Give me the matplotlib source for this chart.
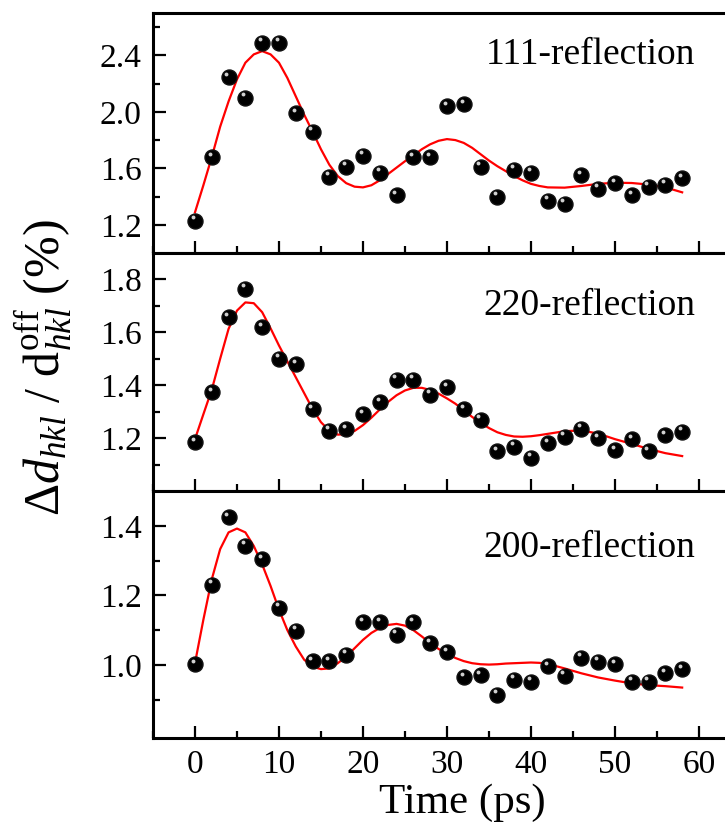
import matplotlib
matplotlib.use('Agg')
import matplotlib.pyplot as plt
import matplotlib.transforms as mtransforms
from matplotlib.ticker import MultipleLocator, FixedLocator

plt.rcParams['font.family'] = 'Liberation Serif'
plt.rcParams['mathtext.fontset'] = 'custom'
plt.rcParams['mathtext.rm'] = 'Liberation Serif'
plt.rcParams['mathtext.it'] = 'Liberation Serif:italic'

# measured points (time in ps)
t = [0, 2, 4, 6, 8, 10, 12, 14, 16, 18, 20, 22, 24, 26, 28,
     30, 32, 34, 36, 38, 40, 42, 44, 46, 48, 50, 52, 54, 56, 58]

d111 = [1.23, 1.68, 2.245, 2.10, 2.49, 2.49, 1.99, 1.86, 1.54, 1.61,
        1.69, 1.57, 1.41, 1.68, 1.68, 2.04, 2.055, 1.61, 1.40, 1.59,
        1.57, 1.37, 1.35, 1.55, 1.455, 1.495, 1.41, 1.47, 1.485, 1.53]
d220 = [1.184, 1.373, 1.657, 1.765, 1.62, 1.50, 1.48, 1.31, 1.227, 1.233,
        1.29, 1.336, 1.42, 1.42, 1.364, 1.392, 1.31, 1.27, 1.15, 1.168,
        1.125, 1.18, 1.205, 1.236, 1.20, 1.155, 1.196, 1.15, 1.21, 1.224]
d200 = [1.002, 1.231, 1.424, 1.342, 1.304, 1.164, 1.098, 1.011, 1.011, 1.029,
        1.122, 1.122, 1.087, 1.122, 1.063, 1.036, 0.964, 0.971, 0.915, 0.958,
        0.952, 0.997, 0.969, 1.021, 1.009, 1.002, 0.952, 0.952, 0.976, 0.988]

# fitted curves
tf = list(range(0, 43)) + [44, 46, 48, 50, 52, 54, 56, 58]
f111 = [1.288, 1.48, 1.68, 1.895, 2.074, 2.23, 2.348, 2.407, 2.43, 2.407,
        2.348, 2.24, 2.11, 1.98, 1.86, 1.735, 1.625, 1.545, 1.495, 1.47,
        1.465, 1.48, 1.515, 1.56, 1.605, 1.65, 1.69, 1.735, 1.77, 1.795,
        1.807, 1.80, 1.78, 1.745, 1.70, 1.655, 1.615, 1.58, 1.545, 1.515,
        1.49, 1.475, 1.465,
        1.463, 1.475, 1.49, 1.498, 1.496, 1.485, 1.465, 1.43]
f220 = [1.196, 1.29, 1.383, 1.50, 1.613, 1.682, 1.713, 1.71, 1.676, 1.615,
        1.55, 1.49, 1.43, 1.37, 1.31, 1.26, 1.228, 1.213, 1.215, 1.227,
        1.249, 1.277, 1.308, 1.337, 1.362, 1.38, 1.39, 1.39, 1.382, 1.368,
        1.35, 1.33, 1.305, 1.28, 1.258, 1.238, 1.222, 1.212, 1.206, 1.205,
        1.207, 1.211, 1.216,
        1.226, 1.229, 1.217, 1.196, 1.178, 1.159, 1.143, 1.132]
f200 = [1.005, 1.13, 1.246, 1.333, 1.381, 1.392, 1.381, 1.342, 1.289, 1.227,
        1.159, 1.10, 1.053, 1.015, 0.995, 0.988, 0.99, 1.005, 1.024, 1.048,
        1.072, 1.092, 1.106, 1.115, 1.118, 1.113, 1.10, 1.082, 1.063, 1.046,
        1.033, 1.02, 1.011, 1.005, 1.002, 1.001, 1.002, 1.004, 1.005, 1.006,
        1.007, 1.006, 1.003,
        0.99, 0.976, 0.964, 0.955, 0.947, 0.942, 0.939, 0.935]

labels = ['111-reflection', '220-reflection', '200-reflection']
ylims = [(1.0, 2.7), (1.0, 1.9), (0.79, 1.5)]
yticks = [[1.2, 1.6, 2.0, 2.4], [1.2, 1.4, 1.6, 1.8], [1.0, 1.2, 1.4]]
yminor = [[1.4, 1.8, 2.2, 2.6], [1.1, 1.3, 1.5, 1.7], [0.9, 1.1, 1.3]]
label_y = [0.825, 0.78, 0.77]

fig = plt.figure(figsize=(7.25, 8.34), dpi=100)
left, width = 0.211, 0.811
boxes = [(0.6966, 0.2878), (0.4113, 0.2854), (0.1151, 0.2962)]

data = [(d111, f111), (d220, f220), (d200, f200)]
for i in range(3):
    ax = fig.add_axes([left, boxes[i][0], width, boxes[i][1]])
    pts, fit = data[i]
    ax.plot(tf, fit, color='red', lw=1.6, zorder=2)
    ax.plot(t, pts, 'o', color='black', ms=10.8, mec='#111111', zorder=3)
    # small highlight on each ball
    hl = mtransforms.offset_copy(ax.transData, fig=fig, x=-1.5, y=2.5, units='points')
    ax.plot(t, pts, 'o', color='#d0d0d0', ms=2.8, mew=0, transform=hl, zorder=4)
    ax.set_xlim(-5, 65)
    ax.set_ylim(*ylims[i])
    ax.xaxis.set_major_locator(MultipleLocator(10))
    ax.xaxis.set_minor_locator(MultipleLocator(5))
    ax.yaxis.set_major_locator(FixedLocator(yticks[i]))
    ax.yaxis.set_minor_locator(FixedLocator(yminor[i]))
    ax.yaxis.set_major_formatter(plt.FormatStrFormatter('%.1f'))
    ax.tick_params(which='both', direction='in', top=False, right=False,
                   width=1.6, labelsize=24, pad=8)
    ax.tick_params(which='major', length=9)
    ax.tick_params(which='minor', length=5)
    for s in ax.spines.values():
        s.set_linewidth(2.2)
    ax.text(0.922, label_y[i], labels[i], transform=ax.transAxes,
            ha='right', va='center', fontsize=27)
    if i < 2:
        ax.tick_params(labelbottom=False)
    else:
        ax.set_xlabel('Time (ps)', fontsize=31)
        ax.xaxis.set_label_coords(0.526, -0.185, transform=ax.transAxes)

fig.text(0.06, 0.559, r'$\Delta d_{hkl}$ / d$_{hkl}^{\rm off}$ (%)',
         rotation=90, ha='center', va='center', fontsize=36)

fig.savefig('out.png', dpi=100)
